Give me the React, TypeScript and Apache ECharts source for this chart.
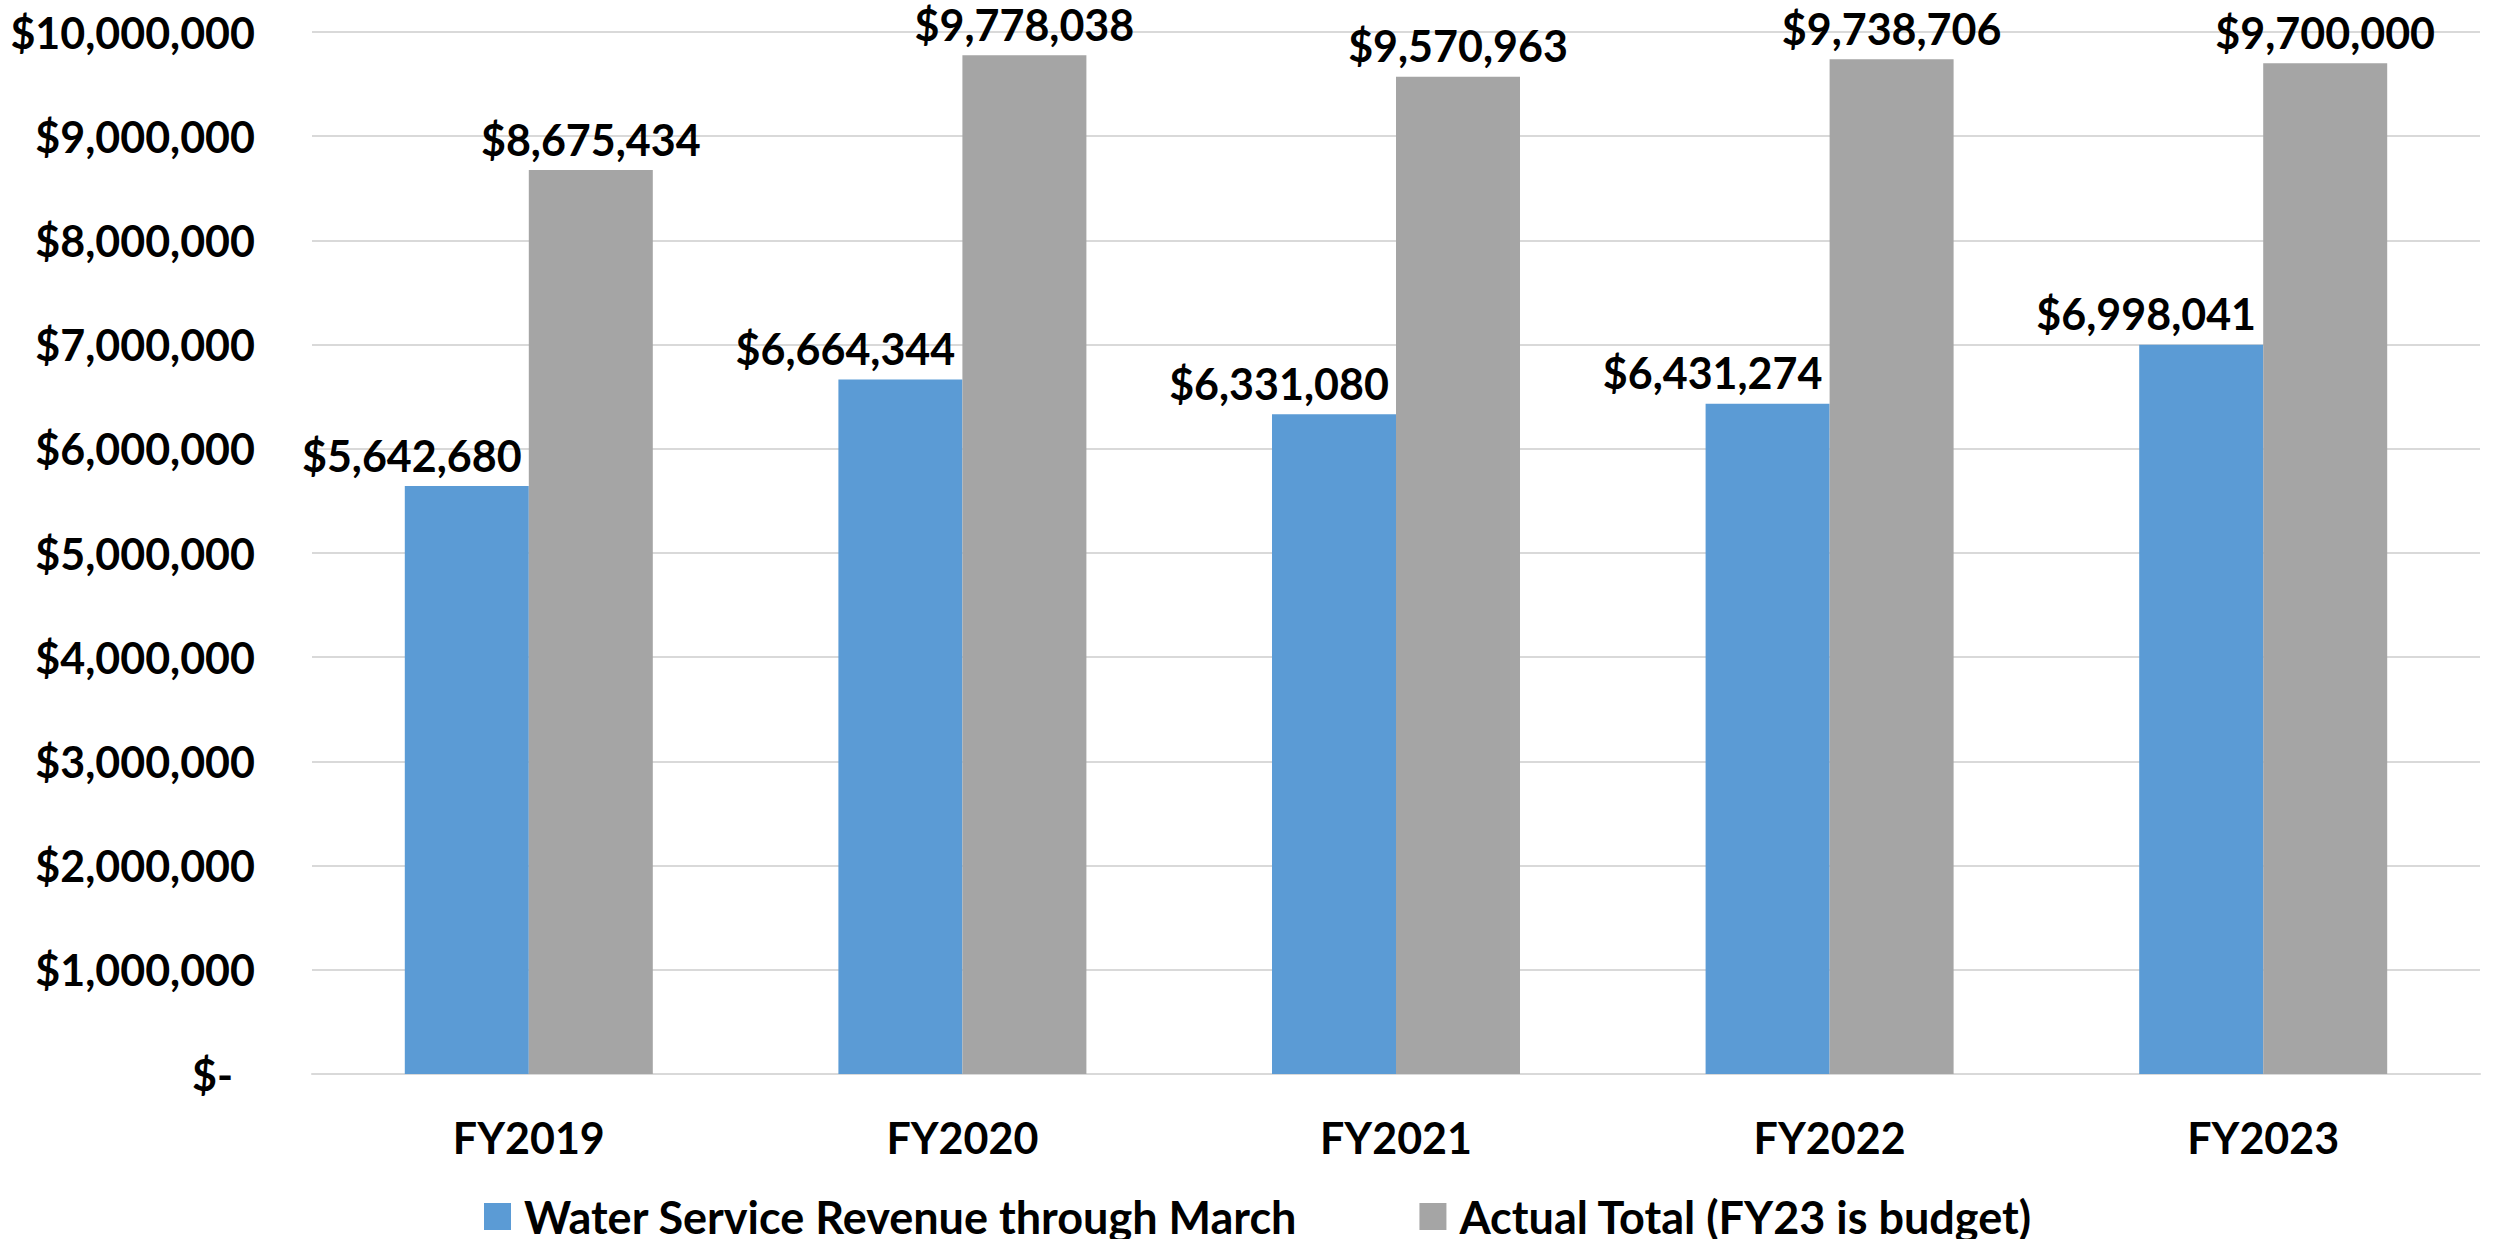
import React, { useEffect, useRef } from "react";
import * as echarts from "echarts";

const categories = ["FY2019", "FY2020", "FY2021", "FY2022", "FY2023"];
const waterServiceRevenue = [5642680, 6664344, 6331080, 6431274, 6998041];
const actualTotal = [8675434, 9778038, 9570963, 9738706, 9700000];
const seriesNames = ["Water Service Revenue through March", "Actual Total (FY23 is budget)"];

const FONT = "Lato";
const FS = 43;
const LFS = 45;

const money = (v: number) => "$" + Math.round(v).toLocaleString("en-US");

export default function App() {
  const ref = useRef<HTMLDivElement>(null);
  useEffect(() => {
    document.body.style.margin = "0";
    if (!ref.current) return;
    const chart = echarts.init(ref.current, undefined, { renderer: "svg" });
    const labelStyle = {
      show: true,
      position: "top",
      distance: 16,
      fontFamily: FONT,
      fontWeight: "bold",
      fontSize: FS,
      lineHeight: 30,
      color: "#000",
      formatter: (p: any) => money(p.value),
    };
    chart.setOption({
      animation: false,
      backgroundColor: "#ffffff",
      textStyle: { fontFamily: FONT, fontWeight: "bold", color: "#000" },
      grid: { left: 312, right: 13, top: 32, bottom: 165, containLabel: false },
      legend: {
        top: 1194,
        left: 484,
        itemWidth: 27,
        itemHeight: 27,
        itemGap: 122,
        icon: "rect",
        padding: 0,
        textStyle: {
          fontFamily: FONT,
          fontWeight: "bold",
          fontSize: LFS,
          lineHeight: 34,
          color: "#000",
          padding: [0, 0, 0, 8],
        },
        data: seriesNames,
      },
      xAxis: {
        type: "category",
        data: categories,
        axisLine: { lineStyle: { color: "#d9d9d9", width: 2 } },
        axisTick: { show: false },
        axisLabel: { fontFamily: FONT, fontWeight: "bold", fontSize: FS, color: "#000", margin: 42 },
      },
      yAxis: {
        type: "value",
        min: 0,
        max: 10000000,
        interval: 1000000,
        axisLine: { show: false },
        axisTick: { show: false },
        splitLine: { lineStyle: { color: "#d9d9d9", width: 2 } },
        axisLabel: {
          fontFamily: FONT,
          fontWeight: "bold",
          fontSize: FS,
          color: "#000",
          margin: 57,
          formatter: (v: number) => (v === 0 ? "{z|$-}" : money(v)),
          rich: {
            z: { fontFamily: FONT, fontWeight: "bold", fontSize: FS, color: "#000", padding: [0, 22, 0, 0] },
          },
        },
      },
      series: [
        {
          name: seriesNames[0],
          type: "bar",
          data: waterServiceRevenue,
          barWidth: 124,
          barGap: "0%",
          itemStyle: { color: "#5b9bd5" },
          label: { ...labelStyle, offset: [-55, 0] },
        },
        {
          name: seriesNames[1],
          type: "bar",
          data: actualTotal,
          barWidth: 124,
          barGap: "0%",
          itemStyle: { color: "#a5a5a5" },
          label: { ...labelStyle },
        },
      ],
    });
    return () => chart.dispose();
  }, []);
  return <div ref={ref} style={{ width: 2493, height: 1239 }} />;
}
